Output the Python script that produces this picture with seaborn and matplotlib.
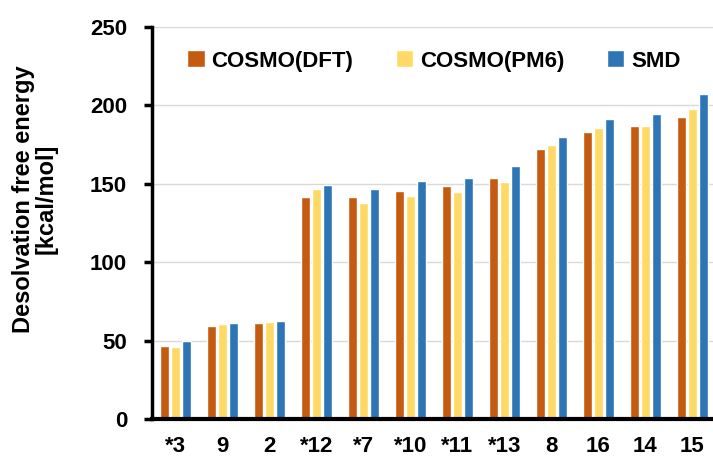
import matplotlib
matplotlib.use("Agg")
import matplotlib.pyplot as plt
import seaborn as sns
import pandas as pd

categories = ["*3", "9", "2", "*12", "*7", "*10", "*11", "*13", "8", "16", "14", "15"]
series = ["COSMO(DFT)", "COSMO(PM6)", "SMD"]
cosmo_dft = [46.5, 59.5, 61, 141.5, 141.5, 145.5, 148.5, 154, 172.5, 183, 187, 192.5]
cosmo_pm6 = [46, 60.5, 62, 146.5, 138, 142.5, 145, 151, 175, 185.5, 187, 198]
smd = [49.5, 61, 62.5, 149, 147, 151.5, 154, 161.5, 180, 191.5, 194.5, 207]
colors = ["#C55A11", "#FFD966", "#2E75B6"]

rows = []
for name, vals in zip(series, [cosmo_dft, cosmo_pm6, smd]):
    for c, v in zip(categories, vals):
        rows.append({"cat": c, "series": name, "value": v})
df = pd.DataFrame(rows)

sns.set_theme(style="white")
plt.rcParams["font.family"] = ["Liberation Sans", "DejaVu Sans"]
plt.rcParams["font.weight"] = "bold"
for k in ["text.color", "axes.labelcolor", "xtick.color", "ytick.color"]:
    plt.rcParams[k] = "black"

fig = plt.figure(figsize=(7.13, 4.58), dpi=100)
ax = fig.add_axes([152/713, 1 - 419/458, 564/713, 392/458])

sns.barplot(data=df, x="cat", y="value", hue="series", order=categories,
            hue_order=series, palette=colors, width=0.7, gap=0.12,
            saturation=1, ax=ax, legend=True)

ax.set_ylim(0, 250)
ax.set_xlim(-0.5, 11.5)
ax.set_yticks([0, 50, 100, 150, 200, 250])
ax.yaxis.grid(True, color="#d9d9d9", linewidth=1)
ax.set_axisbelow(True)
for s in ["top", "right"]:
    ax.spines[s].set_visible(False)
ax.spines["left"].set_linewidth(2.5)
ax.spines["left"].set_color("black")
ax.spines["bottom"].set_linewidth(3)
ax.spines["bottom"].set_color("black")
ax.tick_params(axis="y", which="both", left=True, length=6, width=2.5,
               color="black", labelsize=16, pad=12)
ax.tick_params(axis="x", bottom=False, labelsize=16, pad=6)
for lab in ax.get_xticklabels() + ax.get_yticklabels():
    lab.set_fontweight("bold")
ax.set_xlabel("")
ax.set_ylabel("Desolvation free energy\n[kcal/mol]", fontsize=17,
              fontweight="bold", linespacing=1.0)
ax.yaxis.set_label_coords(-94/564, 0.5 + (419 - 199 - 196) / 392)

handles, labels = ax.get_legend_handles_labels()
ax.legend(handles, labels, loc="center left",
          bbox_to_anchor=((187 - 20) / 713, 1 - 61 / 458),
          bbox_transform=fig.transFigure,
          ncol=3, frameon=False, prop={"weight": "bold", "size": 16},
          handlelength=0.8, handleheight=0.8, handletextpad=0.3,
          columnspacing=1.9)

fig.savefig("out.png", dpi=100)
